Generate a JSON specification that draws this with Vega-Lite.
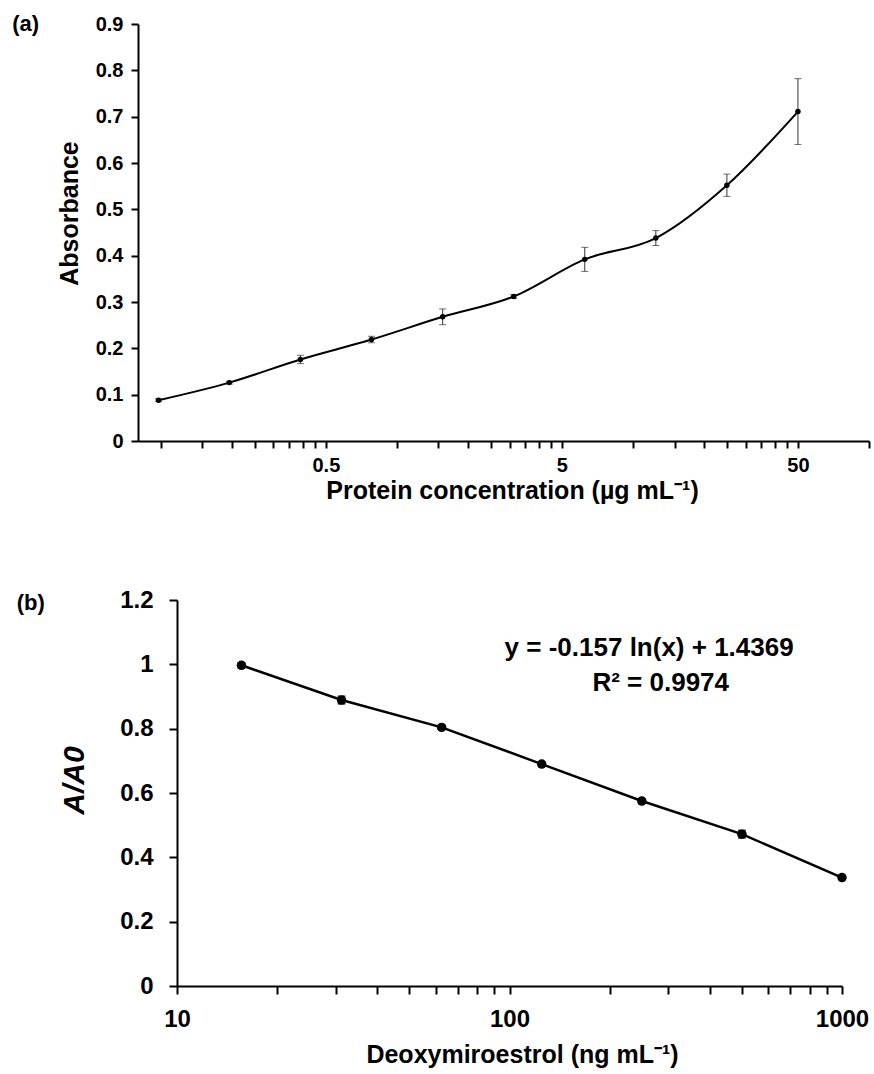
{
  "$schema": "https://vega.github.io/schema/vega-lite/v6.json",
  "background": "white",
  "padding": {"left": 12, "top": 13, "right": 2, "bottom": 2},
  "config": {
    "view": {"stroke": null},
    "font": "Liberation Sans",
    "axis": {
      "domainColor": "black", "domainWidth": 2, "tickColor": "black", "tickWidth": 2,
      "labelColor": "black", "labelFontWeight": "bold", "titleColor": "black", "titleFontWeight": "bold",
      "grid": false, "labelFont": "Liberation Sans", "titleFont": "Liberation Sans",
      "labelOverlap": false, "labelFlush": false
    },
    "title": {"font": "Liberation Sans", "fontWeight": "bold", "color": "black"}
  },
  "spacing": 85,
  "vconcat": [
    {
      "title": {"text": "(a)", "anchor": "start", "frame": "bounds", "fontSize": 22, "dx": -45, "dy": 22, "offset": 0},
      "width": 731,
      "height": 417,
      "data": {"values": [
        {"conc": 0.0977, "abs": 0.088, "sd": 0.003},
        {"conc": 0.195, "abs": 0.126, "sd": 0.003},
        {"conc": 0.39, "abs": 0.176, "sd": 0.009},
        {"conc": 0.78, "abs": 0.219, "sd": 0.007},
        {"conc": 1.5625, "abs": 0.268, "sd": 0.017},
        {"conc": 3.125, "abs": 0.312, "sd": 0.004},
        {"conc": 6.25, "abs": 0.392, "sd": 0.026},
        {"conc": 12.5, "abs": 0.438, "sd": 0.016},
        {"conc": 25, "abs": 0.552, "sd": 0.024},
        {"conc": 50, "abs": 0.711, "sd": 0.071}
      ]},
      "encoding": {
        "x": {
          "field": "conc", "type": "quantitative",
          "scale": {"type": "log", "domain": [0.08, 100], "nice": false},
          "axis": {
            "title": "Protein concentration (µg mL⁻¹)",
            "values": [0.1, 0.15, 0.2, 0.25, 0.3, 0.35, 0.4, 0.45, 0.5, 1, 1.5, 2, 2.5, 3, 3.5, 4, 4.5, 5, 10, 15, 20, 25, 30, 35, 40, 45, 50, 100],
            "labelExpr": "datum.value == 0.5 ? '0.5' : datum.value == 5 ? '5' : datum.value == 50 ? '50' : ''",
            "tickSize": 7, "labelFontSize": 20, "labelPadding": 7,
            "titleFontSize": 25, "titlePadding": 3, "titleX": 374
          }
        },
        "y": {
          "field": "abs", "type": "quantitative",
          "scale": {"domain": [0, 0.9], "nice": false},
          "axis": {
            "title": "Absorbance",
            "values": [0, 0.1, 0.2, 0.3, 0.4, 0.5, 0.6, 0.7, 0.8, 0.9],
            "format": "~g",
            "tickSize": 7, "labelFontSize": 20, "labelPadding": 8,
            "titleFontSize": 25, "titlePadding": 13, "titleY": 189
          }
        }
      },
      "layer": [
        {"mark": {"type": "line", "interpolate": "monotone", "color": "black", "strokeWidth": 2}},
        {
          "mark": {"type": "errorbar", "color": "#333333", "ticks": {"size": 7, "thickness": 1}, "rule": {"strokeWidth": 1}},
          "encoding": {"yError": {"field": "sd"}}
        },
        {"mark": {"type": "point", "filled": true, "color": "black", "size": 30, "opacity": 1}}
      ]
    },
    {
      "title": {"text": "(b)", "anchor": "start", "frame": "bounds", "fontSize": 22, "dx": -43, "dy": 27, "offset": 0},
      "width": 704,
      "height": 386,
      "data": {"values": [
        {"c": 15.625, "r": 0.997, "sd": 0.008},
        {"c": 31.25, "r": 0.889, "sd": 0.012},
        {"c": 62.5, "r": 0.804, "sd": 0.006},
        {"c": 125, "r": 0.69, "sd": 0.005},
        {"c": 250, "r": 0.575, "sd": 0.006},
        {"c": 500, "r": 0.472, "sd": 0.012},
        {"c": 1000, "r": 0.337, "sd": 0.005}
      ]},
      "encoding": {
        "x": {
          "field": "c", "type": "quantitative",
          "scale": {"type": "log", "domain": [10, 1000], "nice": false, "range": [39, 704]},
          "axis": {
            "title": "Deoxymiroestrol (ng mL⁻¹)",
            "values": [10, 20, 30, 40, 50, 60, 70, 80, 90, 100, 200, 300, 400, 500, 600, 700, 800, 900, 1000],
            "labelExpr": "datum.value == 10 ? '10' : datum.value == 100 ? '100' : datum.value == 1000 ? '1000' : ''",
            "tickSize": 8, "labelFontSize": 24, "labelPadding": 13,
            "titleFontSize": 25, "titlePadding": 11, "titleX": 384
          }
        },
        "y": {
          "field": "r", "type": "quantitative",
          "scale": {"domain": [0, 1.2], "nice": false},
          "axis": {
            "title": "A/A0",
            "offset": -39,
            "values": [0, 0.2, 0.4, 0.6, 0.8, 1, 1.2],
            "format": "~g",
            "tickSize": 8, "labelFontSize": 24, "labelPadding": 16,
            "titleFontSize": 30, "titleFontStyle": "italic", "titlePadding": 30, "titleY": 180
          }
        }
      },
      "layer": [
        {"mark": {"type": "line", "color": "black", "strokeWidth": 2.5}},
        {
          "mark": {"type": "errorbar", "color": "black", "ticks": {"size": 8, "thickness": 1.5}, "rule": {"strokeWidth": 1.5}},
          "encoding": {"yError": {"field": "sd"}}
        },
        {"mark": {"type": "point", "filled": true, "color": "black", "size": 90, "opacity": 1}},
        {
          "data": {"values": [
            {"c": 263, "r": 1.051, "label": "y = -0.157 ln(x) + 1.4369"},
            {"c": 285, "r": 0.9425, "label": "R² = 0.9974"}
          ]},
          "mark": {"type": "text", "font": "Liberation Sans", "fontWeight": "bold", "fontSize": 26, "color": "black", "align": "center", "baseline": "middle"},
          "encoding": {"text": {"field": "label"}}
        }
      ]
    }
  ]
}
